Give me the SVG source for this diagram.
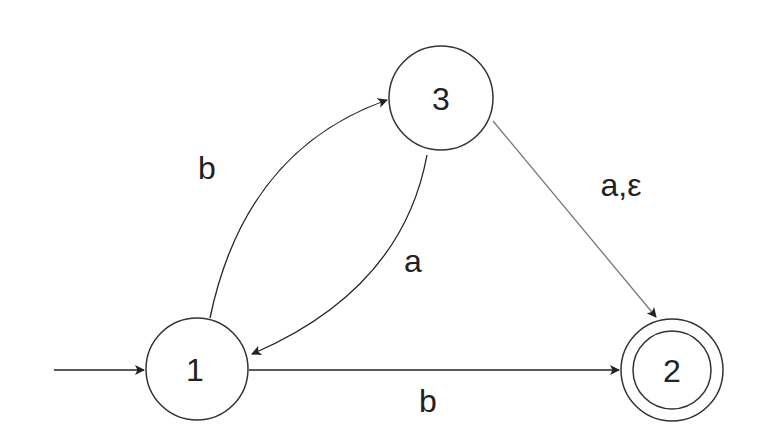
<svg xmlns="http://www.w3.org/2000/svg" width="784" height="446" viewBox="0 0 784 446">
<style>
.st{fill:#fff;stroke:#333;stroke-width:1.5}
.lbl{font-family:"Liberation Sans",Arial,sans-serif;font-size:32px;fill:#222;text-anchor:middle}
.e{fill:none;stroke:#222;stroke-width:1.3}
</style>
<defs>
<marker id="ah" viewBox="0 0 10 10" refX="9" refY="5" markerWidth="10" markerHeight="10" markerUnits="userSpaceOnUse" orient="auto">
<path d="M0,0 L10,5 L0,10 L2.5,5 Z" fill="#222"/>
</marker>
</defs>
<rect width="784" height="446" fill="#fff"/>
<g id="connectors">
<path class="e" d="M54,370 L144,370" marker-end="url(#ah)"/>
<path class="e" d="M249,370 L619,370" marker-end="url(#ah)"/>
<path class="e" d="M210,318 Q245,150 387,100" marker-end="url(#ah)"/>
<path class="e" d="M427,155 Q402,290 252,354" marker-end="url(#ah)"/>
<path class="e" d="M493,121 L656,317" style="stroke:#777" marker-end="url(#ah)"/>
</g>
<g id="node1">
<circle class="st" cx="197" cy="369" r="51"/>
<text class="lbl" x="195" y="381">1</text>
</g>
<g id="node2">
<circle class="st" cx="672" cy="370" r="51"/>
<circle class="st" cx="672" cy="370" r="39"/>
<text class="lbl" x="672" y="382">2</text>
</g>
<g id="node3">
<circle class="st" cx="441" cy="98" r="52"/>
<text class="lbl" x="441" y="110">3</text>
</g>
<g id="labels">
<text class="lbl" x="207" y="179">b</text>
<text class="lbl" x="413" y="272">a</text>
<text class="lbl" x="621" y="196">a,ε</text>
<text class="lbl" x="428" y="412">b</text>
</g>
</svg>
